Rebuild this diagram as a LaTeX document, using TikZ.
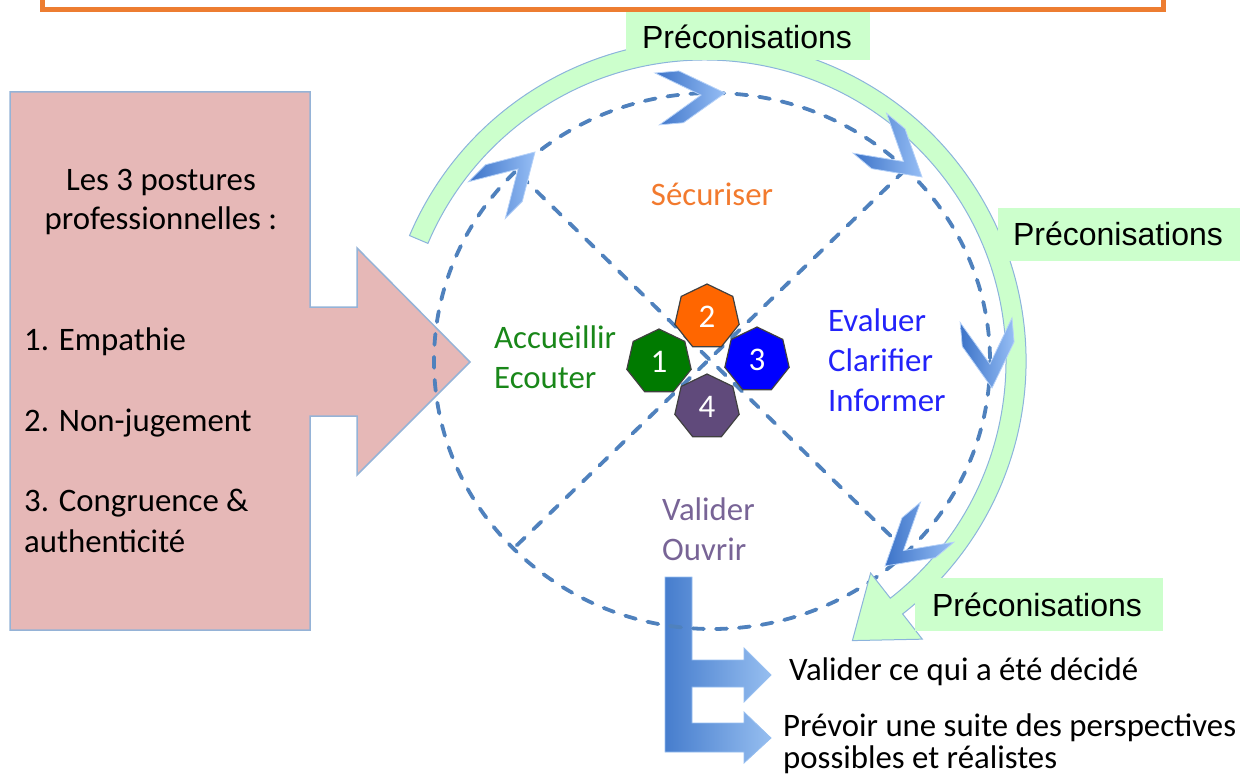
\documentclass[tikz,border=0pt]{standalone}
\usepackage{fontspec}
\setmainfont{Carlito}
\newfontfamily\arialf{Liberation Sans}
\usetikzlibrary{shapes.geometric,calc}
\definecolor{orangeb}{RGB}{237,125,49}
\definecolor{pinkf}{RGB}{230,184,183}
\definecolor{pinkd}{RGB}{149,179,215}
\definecolor{dashc}{RGB}{79,129,189}
\definecolor{greenf}{RGB}{204,255,204}
\definecolor{greend}{RGB}{140,180,220}
\definecolor{chevd}{RGB}{60,115,200}
\definecolor{chevl}{RGB}{150,190,245}
\definecolor{barl}{RGB}{150,190,240}
\definecolor{bard}{RGB}{70,125,205}
\definecolor{hOrange}{RGB}{255,102,0}
\definecolor{hGreen}{RGB}{0,122,0}
\definecolor{hBlue}{RGB}{0,0,255}
\definecolor{hPurple}{RGB}{96,74,123}
\definecolor{tOrange}{RGB}{242,122,46}
\definecolor{tGreen}{RGB}{25,135,25}
\definecolor{tBlue}{RGB}{35,35,250}
\definecolor{tPurple}{RGB}{120,100,150}
\tikzset{
  dashline/.style={draw=dashc, line width=3.8, dash pattern=on 11pt off 12pt, line cap=round},
  greenband/.style={fill=greenf, draw=greend, line width=1},
  prelabel/.style={fill=greenf, inner sep=0, font=\arialf\fontsize{32}{36}\selectfont, text=black},
  ctext/.style={inner sep=0, font=\fontsize{32.8}{38}\selectfont, text height=22pt, text depth=6pt},
  hept/.style={regular polygon, regular polygon sides=7, minimum size=66pt, inner sep=0,
    draw=black!75, line width=1.2, text=white, font=\fontsize{33}{34}\selectfont},
  chev/.pic={\path[left color=chevd, right color=chevl, draw=chevl!70!white, line width=0.8]
    (0,0) -- (-44,-26) -- (-68,-26) -- (-24,0) -- (-68,26) -- (-44,26) -- cycle;}
}
\begin{document}
\begin{tikzpicture}[x=1pt,y=-1pt]
\useasboundingbox (0,0) rectangle (1240,776);
\clip (0,0) rectangle (1240,776);
% top orange frame
\draw[draw=orangeb, line width=5, fill=white] (42,-40) rectangle (1163,10);
% pink box with arrow
\path[fill=pinkf, draw=pinkd, line width=1.5]
  (10,92) -- (310,92) -- (310,307) -- (357,307) -- (357,248) -- (470,362)
  -- (357,475) -- (357,416) -- (310,416) -- (310,630) -- (10,630) -- cycle;
% blue E bar
\path[left color=bard, right color=barl, draw=barl, line width=0.8]
  (665,577) -- (692,577) -- (692,660) -- (744,660) -- (744,648) -- (771,675)
  -- (744,702) -- (744,687) -- (692,687) -- (692,723) -- (744,723) -- (744,712)
  -- (771,738) -- (744,763) -- (744,752) -- (665,752) -- cycle;
% dashed circle and diagonals
\coordinate (cc) at (712,361);
\coordinate (ul) at (520,175);
\coordinate (lr) at (900,545);
\coordinate (ur) at (905,170);
\coordinate (ll) at (512,550);
\draw[dashline] (cc) ellipse[x radius=278, y radius=268];
\draw[dashline] (ul) -- (lr);
\draw[dashline] (ur) -- (ll);
% green curved arrow
\coordinate (gc) at (705,361);
\coordinate (gtip) at (852.4,640.6);
\path[greenband]
  ($(gc)+(-157:321)$) arc[start angle=-157, end angle=52, radius=321]
  -- ($(gc)+(52:353)$) -- (gtip) -- ($(gc)+(52:269)$)
  -- ($(gc)+(52:301)$) arc[start angle=52, end angle=-157, radius=301] -- cycle;
% chevrons
\pic[rotate=45] at (535,152) {chev};
\pic[rotate=5] at (725,93) {chev};
\pic[rotate=-40] at (922,177) {chev};
\pic[rotate=-85] at (992,388) {chev};
\pic[rotate=-140] at (885,566) {chev};
% labels
\path[fill=greenf] (626,12) rectangle (870,60);
\node[prelabel] (p1) at (747,37) {Préconisations};
\path[fill=greenf] (998,208) rectangle (1240,261);
\node[prelabel] (p2) at (1118,234) {Préconisations};
\path[fill=greenf] (915,578) rectangle (1163,631);
\node[prelabel] (p3) at (1037,605) {Préconisations};
% heptagons
\node[hept, fill=hOrange] (h2) at (707,317) {2};
\node[hept, fill=hGreen] (h1) at (659,362) {1};
\node[hept, fill=hBlue] (h3) at (757,360) {3};
\node[hept, fill=hPurple] (h4) at (707,407) {4};
% pink texts
\node[ctext] (l1) at (161,182) {Les 3 postures};
\node[ctext] (l2) at (161,221) {professionnelles :};
\node[ctext, anchor=west] (e1) at (24,342) {1. Empathie};
\node[ctext, anchor=west] (e2) at (24,423) {2. Non-jugement};
\node[ctext, anchor=west] (e3) at (24,503) {3. Congruence \&};
\node[ctext, anchor=west] (e4) at (24,544) {authenticité};
% quadrant texts
\node[ctext, text=tOrange] (sec) at (712,197) {Sécuriser};
\node[ctext, text=tGreen, anchor=west] (acc) at (494,340) {Accueillir};
\node[ctext, text=tGreen, anchor=west] (eco) at (494,380) {Ecouter};
\node[ctext, text=tBlue, anchor=west] (eva) at (828,323) {Evaluer};
\node[ctext, text=tBlue, anchor=west] (cla) at (828,363) {Clarifier};
\node[ctext, text=tBlue, anchor=west] (inf) at (828,403) {Informer};
\node[ctext, text=tPurple, anchor=west] (val) at (662,512) {Valider};
\node[ctext, text=tPurple, anchor=west] (ouv) at (662,552) {Ouvrir};
% bottom texts
\node[ctext, anchor=west] (b1) at (789,672) {Valider ce qui a été décidé};
\node[ctext, anchor=west] (b2) at (783,728) {Prévoir une suite des perspectives};
\node[ctext, anchor=west] (b3) at (783,760) {possibles et réalistes};
\end{tikzpicture}
\end{document}
